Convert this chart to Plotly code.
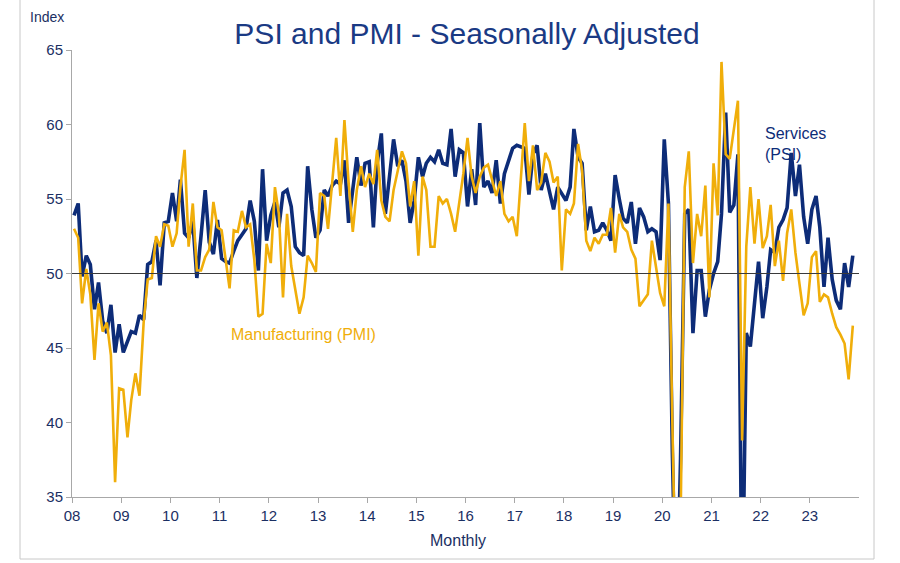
import plotly.graph_objects as go

# ---- data (Jan 2008 .. Nov 2023, monthly) ----
years = list(range(2008, 2024))
tick_labels = ["08", "09", "10", "11", "12", "13", "14", "15", "16", "17", "18", "19", "20", "21", "22", "23"]

psi_2008 = [53.9, 54.7, 49.8, 51.2, 50.6, 47.6, 49.4, 46.8, 46.0, 47.9, 44.7, 46.6]
psi_2009 = [44.7, 45.4, 46.1, 46.0, 47.2, 46.9, 50.6, 50.8, 52.2, 49.2, 53.4, 53.5]
psi_2010 = [55.4, 53.5, 56.3, 52.7, 52.4, 53.5, 49.7, 52.5, 55.6, 52.1, 51.3, 53.6]
psi_2011 = [51.0, 50.8, 50.7, 51.5, 52.2, 52.6, 53.0, 54.9, 53.5, 50.2, 57.0, 52.2]
psi_2012 = [53.9, 54.8, 53.1, 55.4, 55.6, 54.5, 51.8, 51.4, 51.2, 57.2, 54.3, 52.4]
psi_2013 = [52.9, 55.6, 55.2, 55.9, 56.2, 56.0, 57.6, 53.4, 55.8, 57.8, 55.9, 57.4]
psi_2014 = [57.5, 53.1, 57.4, 59.4, 54.0, 56.5, 59.0, 57.2, 57.6, 56.2, 53.4, 54.9]
psi_2015 = [57.8, 56.5, 57.4, 57.8, 57.5, 58.3, 57.4, 57.3, 59.7, 56.5, 58.3, 58.1]
psi_2016 = [54.5, 57.0, 54.6, 60.1, 55.8, 56.2, 55.4, 57.6, 54.7, 56.7, 57.6, 58.4]
psi_2017 = [58.6, 58.5, 58.4, 55.3, 58.0, 58.6, 55.6, 56.7, 55.6, 54.3, 55.8, 55.4]
psi_2018 = [54.9, 55.8, 59.7, 57.8, 57.4, 52.9, 54.5, 52.8, 52.9, 53.4, 52.9, 52.2]
psi_2019 = [56.6, 55.0, 53.7, 53.4, 54.8, 52.0, 54.4, 53.8, 52.8, 53.0, 52.8, 50.9]
psi_2020 = [59.0, 54.7, 38.0, 26.0, 37.6, 54.0, 54.3, 46.0, 50.2, 50.2, 47.1, 48.9]
psi_2021 = [50.0, 50.8, 54.0, 60.8, 54.1, 54.6, 58.0, 26.3, 46.0, 45.1, 48.2, 50.8]
psi_2022 = [47.0, 49.1, 51.6, 51.4, 53.1, 53.6, 54.4, 58.1, 55.2, 57.3, 53.8, 52.0]
psi_2023 = [54.3, 55.2, 53.1, 49.1, 52.4, 49.6, 48.2, 47.6, 50.7, 49.1, 51.2]

pmi_2008 = [53.0, 52.4, 48.0, 50.3, 48.6, 44.2, 48.0, 46.1, 46.7, 44.5, 36.0, 42.3]
pmi_2009 = [42.2, 39.0, 41.5, 43.3, 41.8, 46.7, 49.6, 49.7, 52.5, 51.8, 53.3, 53.2]
pmi_2010 = [51.8, 52.7, 55.8, 58.3, 51.8, 54.7, 50.2, 50.2, 51.1, 51.6, 54.8, 53.1]
pmi_2011 = [52.9, 51.0, 49.0, 52.9, 52.8, 54.2, 53.1, 53.3, 50.9, 47.1, 47.3, 52.0]
pmi_2012 = [50.7, 55.8, 54.0, 48.4, 54.0, 50.5, 48.9, 47.3, 48.4, 51.2, 50.7, 50.1]
pmi_2013 = [55.4, 55.2, 53.0, 56.0, 59.1, 55.2, 60.3, 56.1, 52.8, 55.6, 57.2, 55.8]
pmi_2014 = [56.7, 56.0, 58.3, 54.9, 53.8, 53.5, 55.6, 56.9, 58.2, 57.4, 54.5, 56.2]
pmi_2015 = [51.2, 56.5, 55.6, 51.8, 51.8, 55.2, 54.7, 55.0, 54.0, 52.8, 54.7, 56.7]
pmi_2016 = [59.1, 56.5, 55.4, 56.5, 57.1, 57.3, 56.3, 55.2, 56.2, 54.0, 53.5, 53.8]
pmi_2017 = [52.5, 56.6, 60.1, 56.2, 58.6, 55.6, 56.1, 58.1, 57.5, 56.1, 56.5, 50.2]
pmi_2018 = [54.3, 54.0, 54.7, 58.7, 56.9, 52.2, 51.5, 52.4, 52.0, 52.6, 52.6, 54.4]
pmi_2019 = [51.4, 54.0, 53.1, 52.8, 51.6, 51.0, 47.8, 48.2, 48.6, 52.2, 50.5, 48.7]
pmi_2020 = [47.8, 54.7, 40.0, 26.0, 33.0, 55.8, 58.2, 50.7, 54.0, 52.5, 55.9, 48.4]
pmi_2021 = [57.4, 53.9, 64.2, 58.0, 57.7, 59.6, 61.6, 38.8, 51.8, 55.8, 52.0, 55.0]
pmi_2022 = [51.7, 52.5, 54.6, 50.5, 52.2, 49.5, 52.7, 54.3, 51.4, 49.3, 47.2, 48.0]
pmi_2023 = [51.1, 51.5, 48.1, 48.6, 48.4, 47.3, 46.4, 45.9, 45.3, 42.9, 46.5]

psi = (psi_2008 + psi_2009 + psi_2010 + psi_2011 + psi_2012 + psi_2013 + psi_2014 + psi_2015
       + psi_2016 + psi_2017 + psi_2018 + psi_2019 + psi_2020 + psi_2021 + psi_2022 + psi_2023)
pmi = (pmi_2008 + pmi_2009 + pmi_2010 + pmi_2011 + pmi_2012 + pmi_2013 + pmi_2014 + pmi_2015
       + pmi_2016 + pmi_2017 + pmi_2018 + pmi_2019 + pmi_2020 + pmi_2021 + pmi_2022 + pmi_2023)

# month mid-points
dates = []
for k in range(len(psi)):
    y = 2008 + k // 12
    m = k % 12 + 1
    dates.append(f"{y}-{m:02d}-16")

BLUE = "#0D2C78"
ORANGE = "#F0AE0A"
NAVY_TXT = "#1B2F63"
FONT = "Liberation Sans, Arial, sans-serif"
NARROW = "Liberation Sans Narrow, Arial Narrow, Liberation Sans, Arial, sans-serif"

fig = go.Figure()
fig.add_trace(go.Scatter(x=dates, y=psi, mode="lines", name="Services (PSI)",
                         line=dict(color=BLUE, width=3.6), showlegend=False))
fig.add_trace(go.Scatter(x=dates, y=pmi, mode="lines", name="Manufacturing (PMI)",
                         line=dict(color=ORANGE, width=2.6), showlegend=False))

fig.add_hline(y=50, line=dict(color="#3A3A3A", width=1))

L, R, T, B = 72, 859, 50, 497
W, H = 900, 563
pw, ph = R - L, B - T

def px(x):
    return (x - L) / pw

def py(y):
    return (B - y) / ph

fig.update_layout(
    width=W, height=H,
    margin=dict(l=L, r=W - R, t=T, b=H - B),
    paper_bgcolor="white", plot_bgcolor="white",
    title=dict(text="PSI and PMI - Seasonally Adjusted", x=467 / W, xanchor="center",
               y=1 - 33 / H, yanchor="middle",
               font=dict(family=FONT, size=30, color="#1A3A84")),
    xaxis=dict(type="date", range=["2008-01-01", "2024-01-01"],
               tickvals=[f"{y}-01-01" for y in years], ticktext=tick_labels,
               showgrid=False, zeroline=False, showline=True, linecolor="#A8A8A8", linewidth=1,
               ticks="outside", ticklen=5, tickcolor="#A8A8A8",
               tickfont=dict(family=NARROW, size=15, color=NAVY_TXT)),
    yaxis=dict(range=[35, 65], tickvals=[35, 40, 45, 50, 55, 60, 65],
               showgrid=False, zeroline=False, showline=True, linecolor="#A8A8A8", linewidth=1,
               ticks="outside", ticklen=5, tickcolor="#A8A8A8",
               tickfont=dict(family=NARROW, size=15, color=NAVY_TXT)),
)

fig.add_annotation(text="Index", xref="paper", yref="paper", x=px(28), y=py(17),
                   xanchor="left", yanchor="middle", showarrow=False,
                   font=dict(family=FONT, size=14, color=NAVY_TXT))
fig.add_annotation(text="Monthly", xref="paper", yref="paper", x=px(458), y=py(540),
                   xanchor="center", yanchor="middle", showarrow=False,
                   font=dict(family=NARROW, size=16, color=NAVY_TXT))
fig.add_annotation(text="Services<br>(PSI)", xref="paper", yref="paper", x=px(763), y=py(144),
                   xanchor="left", yanchor="middle", align="left", showarrow=False,
                   font=dict(family=FONT, size=16, color=BLUE))
fig.add_annotation(text="Manufacturing (PMI)", xref="paper", yref="paper", x=px(229), y=py(334),
                   xanchor="left", yanchor="middle", showarrow=False,
                   font=dict(family=FONT, size=16, color=ORANGE))

# chart frame (left, bottom and right edges)
fig.add_shape(type="rect", xref="paper", yref="paper", x0=px(20), x1=px(874), y0=py(559), y1=py(-2),
              line=dict(color="#C8C8C8", width=1), fillcolor="rgba(0,0,0,0)", layer="below")

fig.write_html("out.html")
